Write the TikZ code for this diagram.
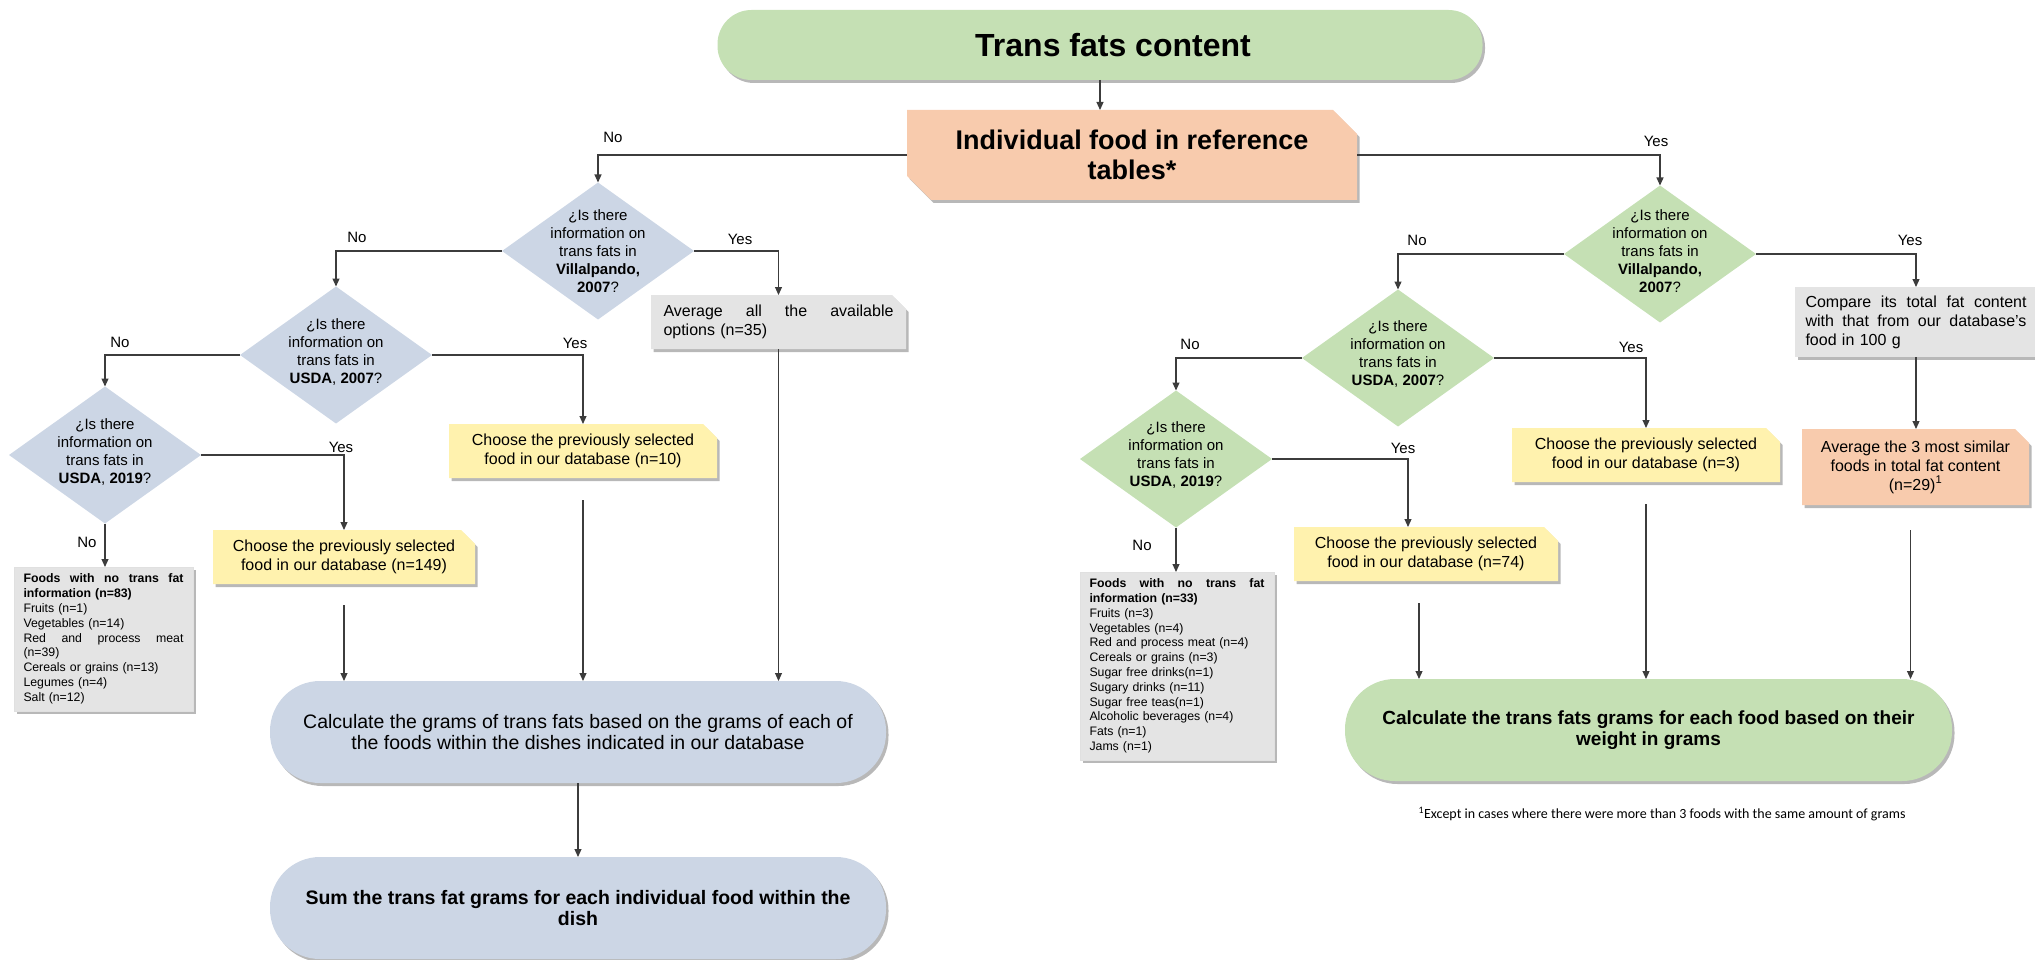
\documentclass[tikz,border=0pt]{standalone}
\usepackage{fontspec}
\setmainfont{Liberation Sans}
\newfontfamily\notefont{Carlito}
\usetikzlibrary{shapes.geometric,shapes.misc,shadows,arrows.meta,calc}

\definecolor{startgreen}{RGB}{197,224,180}
\definecolor{stepblue}{RGB}{204,214,229}
\definecolor{peach}{RGB}{248,203,173}
\definecolor{paleyellow}{RGB}{255,242,174}
\definecolor{lightgray}{RGB}{228,228,228}
\definecolor{linecol}{RGB}{60,60,60}

\newcommand\fsz[2]{\fontsize{#1}{#2}\selectfont}

\begin{document}
\begin{tikzpicture}[x=1pt,y=-1pt,
  every node/.style={inner sep=0pt,outer sep=0pt},
  softshadow/.style={drop shadow={shadow xshift=2.5pt,shadow yshift=-3pt,opacity=0.28,fill=black}},
  link/.style={draw=linecol,line width=1.1pt},
  arr/.style={link,-{Triangle[length=8pt,width=7pt]}},
  stadium/.style={rectangle,rounded corners=50pt,minimum height=102pt,align=center,softshadow},
  dia/.style={diamond,minimum width=192pt,minimum height=137pt},
  dtext/.style={align=center,font=\fsz{15}{18}},
  snipbox/.style={chamfered rectangle,chamfered rectangle corners=north east,
    chamfered rectangle xsep=7pt,chamfered rectangle ysep=7pt,softshadow,align=center},
  listbox/.style={rectangle,fill=lightgray,draw=black!12,line width=0.6pt,softshadow,
    align=left,font=\fsz{12.3}{14.8}},
  lab/.style={font=\fsz{15}{18}}
]
\useasboundingbox (0,0) rectangle (2035,960);

% ---------- top ----------
\node[rectangle,rounded corners=34pt,fill=startgreen,softshadow,minimum width=765pt,minimum height=70pt,
  font=\fsz{32}{38}\bfseries] (title) at (1100,45) {\hspace*{26pt}Trans fats content};
\node[chamfered rectangle,chamfered rectangle corners={north east,south west},
  chamfered rectangle xsep=12pt,chamfered rectangle ysep=12pt,fill=peach,softshadow,
  minimum width=450pt,minimum height=90pt,align=center,font=\fsz{27}{30}\bfseries]
  (ind) at (1132,155) {Individual food in reference\\tables*};

% ---------- left branch (blue) ----------
\node[dia,fill=stepblue] (d1) at (598,251) {};
\node[dtext] (d1t) at (598,251) {¿Is there\\information on\\trans fats in\\\textbf{Villalpando,}\\\textbf{2007}?};
\node[dia,fill=stepblue] (d2) at (336,355) {};
\node[dtext] (d2t) at (336,352) {¿Is there\\information on\\trans fats in\\\textbf{USDA}, \textbf{2007}?};
\node[dia,fill=stepblue] (d3) at (105,455) {};
\node[dtext] (d3t) at (105,452) {¿Is there\\information on\\trans fats in\\\textbf{USDA}, \textbf{2019}?};

\node[snipbox,fill=lightgray,minimum width=255pt,minimum height=54pt,text width=230pt,align=left,
  font=\fsz{16}{19}] (avg) at (778.5,322)
  {\makebox[230pt]{Average\hfill all\hfill the\hfill available}\\options (n=35)};
\node[snipbox,fill=paleyellow,minimum width=268pt,minimum height=54pt,font=\fsz{16}{19}]
  (n10) at (583,451) {Choose the previously selected\\food in our database (n=10)};
\node[snipbox,fill=paleyellow,minimum width=262pt,minimum height=54pt,font=\fsz{16}{19}]
  (n149) at (344,557) {Choose the previously selected\\food in our database (n=149)};
\node[listbox,minimum width=179pt,minimum height=144pt,text width=160pt] (list1) at (103.5,639)
  {\makebox[160pt]{\bfseries Foods\hfill with\hfill no\hfill trans\hfill fat}\\
   {\bfseries information (n=83)}\\
   Fruits (n=1)\\
   Vegetables (n=14)\\
   \makebox[160pt]{Red\hfill and\hfill process\hfill meat}\\
   (n=39)\\
   Cereals or grains (n=13)\\
   Legumes (n=4)\\
   Salt (n=12)};

\node[stadium,fill=stepblue,minimum width=616pt,font=\fsz{19.5}{21.5}] (calcL) at (578,732)
  {Calculate the grams of trans fats based on the grams of each of\\the foods within the dishes indicated in our database};
\node[stadium,fill=stepblue,minimum width=616pt,font=\fsz{19.5}{21.5}\bfseries] (sumL) at (578,908)
  {Sum the trans fat grams for each individual food within the\\dish};

% ---------- right branch (green) ----------
\node[dia,fill=startgreen] (d4) at (1660,254) {};
\node[dtext] (d4t) at (1660,251) {¿Is there\\information on\\trans fats in\\\textbf{Villalpando,}\\\textbf{2007}?};
\node[dia,fill=startgreen] (d5) at (1398,358) {};
\node[dtext] (d5t) at (1398,354) {¿Is there\\information on\\trans fats in\\\textbf{USDA}, \textbf{2007}?};
\node[dia,fill=startgreen] (d6) at (1176,459) {};
\node[dtext] (d6t) at (1176,455) {¿Is there\\information on\\trans fats in\\\textbf{USDA}, \textbf{2019}?};

\node[rectangle,fill=lightgray,softshadow,minimum width=242pt,minimum height=70pt,text width=221pt,
  align=left,font=\fsz{16}{19}] (cmp) at (1916,322)
  {\makebox[221pt]{Compare\hfill its\hfill total\hfill fat\hfill content}\\
   \makebox[221pt]{with\hfill that\hfill from\hfill our\hfill database's}\\
   food in 100 g};
\node[snipbox,fill=peach,minimum width=227pt,minimum height=76pt,font=\fsz{16}{19}]
  (avg3) at (1915.5,467) {Average the 3 most similar\\foods in total fat content\\(n=29)\textsuperscript{1}};
\node[snipbox,fill=paleyellow,minimum width=268pt,minimum height=54pt,font=\fsz{16}{19}]
  (n3) at (1646,455) {Choose the previously selected\\food in our database (n=3)};
\node[snipbox,fill=paleyellow,minimum width=264pt,minimum height=54pt,font=\fsz{16}{19}]
  (n74) at (1426,554) {Choose the previously selected\\food in our database (n=74)};
\node[listbox,minimum width=194pt,minimum height=188pt,text width=175pt] (list2) at (1177,666)
  {\makebox[175pt]{\bfseries Foods\hfill with\hfill no\hfill trans\hfill fat}\\
   {\bfseries information (n=33)}\\
   Fruits (n=3)\\
   Vegetables (n=4)\\
   Red and process meat (n=4)\\
   Cereals or grains (n=3)\\
   Sugar free drinks(n=1)\\
   Sugary drinks (n=11)\\
   Sugar free teas(n=1)\\
   Alcoholic beverages (n=4)\\
   Fats (n=1)\\
   Jams (n=1)};

\node[stadium,fill=startgreen,minimum width=607pt,font=\fsz{19}{21.5}\bfseries] (calcR) at (1648.5,730)
  {Calculate the trans fats grams for each food based on their\\weight in grams};

\node[font=\notefont\fsz{14}{16}] (note) at (1662,814)
  {\textsuperscript{1}Except in cases where there were more than 3 foods with the same amount of grams};

% ---------- connectors ----------
\draw[arr] (title.south) -- (title.south |- ind.north);
\draw[arr] (ind.west) -| (d1.north);
\draw[arr] (ind.east) -| (d4.north);

\draw[arr] (d1.west) -| (d2.north);
\draw[arr] (d1.east) -| (avg.north);
\draw[arr] (d2.west) -| (d3.north);
\draw[arr] (d2.east) -| (n10.north);
\draw[arr] (d3.east) -| (n149.north);
\draw[arr] (d3.south) -- (d3.south |- list1.north);
\draw[arr] (avg.south) -- (avg.south |- calcL.north);
\draw[arr,shorten <=22pt] (n10.south) -- (n10.south |- calcL.north);
\draw[arr,shorten <=21pt] (n149.south) -- (n149.south |- calcL.north);
\draw[arr] (calcL.south) -- (sumL.north);

\draw[arr] (d4.west) -| (d5.north);
\draw[arr] (d4.east) -| (cmp.north);
\draw[arr] (d5.west) -| (d6.north);
\draw[arr] (d5.east) -| (n3.north);
\draw[arr] (d6.east) -| ([xshift=-18pt]n74.north);
\draw[arr] (d6.south) -- (d6.south |- list2.north);
\draw[arr] (cmp.south) -- (cmp.south |- avg3.north);
\draw[arr,shorten <=25pt] ([xshift=-5pt]avg3.south) -- ([xshift=-5pt]avg3.south |- calcR.north);
\draw[arr,shorten <=22pt] (n3.south) -- (n3.south |- calcR.north);
\draw[arr,shorten <=22pt] ([xshift=-7pt]n74.south) -- ([xshift=-7pt]n74.south |- calcR.north);

% ---------- branch labels ----------
\node[lab] (l0n) at (613,137) {No};
\node[lab] (l0y) at (1656,141) {Yes};
\node[lab] (l1n) at (357,237) {No};
\node[lab] (l1y) at (740,239) {Yes};
\node[lab] (l2n) at (120,342) {No};
\node[lab] (l2y) at (575,343) {Yes};
\node[lab] (l3y) at (341,447) {Yes};
\node[lab] (l3n) at (87,542) {No};
\node[lab] (l4n) at (1417,240) {No};
\node[lab] (l4y) at (1910,240) {Yes};
\node[lab] (l5n) at (1190,344) {No};
\node[lab] (l5y) at (1631,347) {Yes};
\node[lab] (l6y) at (1403,448) {Yes};
\node[lab] (l6n) at (1142,545) {No};
\end{tikzpicture}
\end{document}
